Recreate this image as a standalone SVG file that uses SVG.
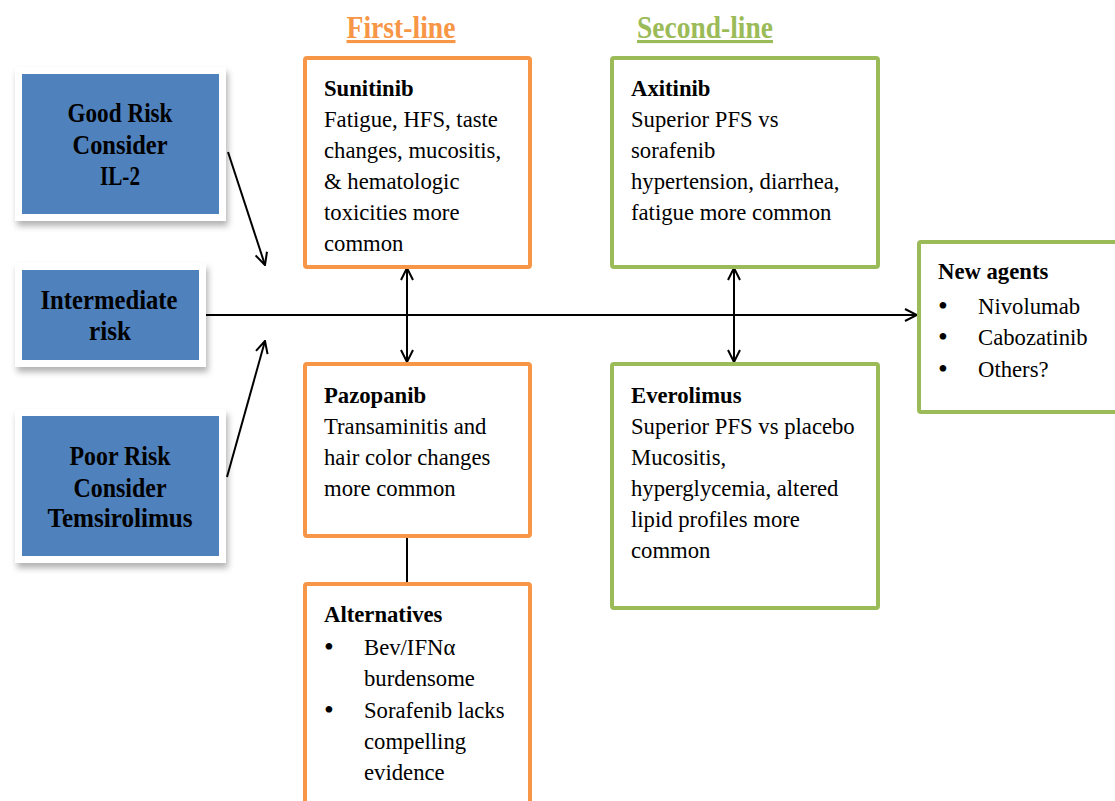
<svg xmlns="http://www.w3.org/2000/svg" width="1115" height="801" viewBox="0 0 1115 801">
<style>
.risk{fill:#4F81BD;stroke:#ffffff;stroke-width:7}
.rt{font-family:"Liberation Serif",serif;font-weight:bold;font-size:27px;fill:#000;text-anchor:middle}
.ob{fill:#fff;stroke:#F79646;stroke-width:4}
.gb{fill:#fff;stroke:#9BBB59;stroke-width:4}
.t{font-family:"Liberation Serif",serif;font-size:22.7px;fill:#000}
.tb{font-family:"Liberation Serif",serif;font-size:22.7px;font-weight:bold;fill:#000}
.bu{font-family:"Liberation Serif",serif;font-size:28px;fill:#000}
.h{font-family:"Liberation Serif",serif;font-size:31px;font-weight:bold;text-decoration:underline;text-anchor:middle}
.c{stroke:#000;stroke-width:2;fill:none}
</style>
<defs>
<filter id="sh" x="-20%" y="-20%" width="150%" height="150%">
<feDropShadow dx="2" dy="5" stdDeviation="3" flood-color="#000" flood-opacity="0.3"/>
</filter>
<marker id="ah" viewBox="0 0 14 14" refX="13" refY="7" markerWidth="14" markerHeight="14" markerUnits="userSpaceOnUse" orient="auto-start-reverse">
<path d="M1,1 L13,7 L1,13" fill="none" stroke="#000" stroke-width="2"/>
</marker>
</defs>
<rect width="1115" height="801" fill="#fff"/>

<text class="h" x="401" y="38" fill="#F79646" textLength="109" lengthAdjust="spacingAndGlyphs">First-line</text>
<text class="h" x="705" y="38" fill="#9BBB59" textLength="136" lengthAdjust="spacingAndGlyphs">Second-line</text>

<g id="connectors">
<line class="c" x1="206" y1="315" x2="917" y2="315" marker-end="url(#ah)"/>
<line class="c" x1="228" y1="152" x2="265" y2="265" marker-end="url(#ah)"/>
<line class="c" x1="227" y1="477" x2="265" y2="341" marker-end="url(#ah)"/>
<line class="c" x1="407" y1="268" x2="407" y2="362" marker-start="url(#ah)" marker-end="url(#ah)"/>
<line class="c" x1="734" y1="268" x2="734" y2="362" marker-start="url(#ah)" marker-end="url(#ah)"/>
<line class="c" x1="407" y1="537" x2="407" y2="583"/>
</g>

<g id="good-risk">
<rect class="risk" x="18.5" y="70.5" width="204" height="147" filter="url(#sh)"/>
<text class="rt" x="120" y="122" textLength="105" lengthAdjust="spacingAndGlyphs">Good Risk</text>
<text class="rt" x="120" y="154" textLength="95" lengthAdjust="spacingAndGlyphs">Consider</text>
<text class="rt" x="120" y="185" textLength="40" lengthAdjust="spacingAndGlyphs">IL-2</text>
</g>
<g id="intermediate-risk">
<rect class="risk" x="18.5" y="266.5" width="184" height="97" filter="url(#sh)"/>
<text class="rt" x="109" y="309" textLength="137" lengthAdjust="spacingAndGlyphs">Intermediate</text>
<text class="rt" x="110" y="340" textLength="42" lengthAdjust="spacingAndGlyphs">risk</text>
</g>
<g id="poor-risk">
<rect class="risk" x="18.5" y="412.5" width="204" height="147" filter="url(#sh)"/>
<text class="rt" x="120" y="465" textLength="101" lengthAdjust="spacingAndGlyphs">Poor Risk</text>
<text class="rt" x="120" y="497" textLength="93" lengthAdjust="spacingAndGlyphs">Consider</text>
<text class="rt" x="120" y="527" textLength="145" lengthAdjust="spacingAndGlyphs">Temsirolimus</text>
</g>

<g id="sunitinib">
<rect class="ob" x="305" y="58" width="225" height="209" rx="2"/>
<text class="tb" x="324" y="96">Sunitinib</text>
<text class="t" x="324" y="127">Fatigue, HFS, taste</text>
<text class="t" x="324" y="158">changes, mucositis,</text>
<text class="t" x="324" y="189">&amp; hematologic</text>
<text class="t" x="324" y="220">toxicities more</text>
<text class="t" x="324" y="251">common</text>
</g>

<g id="pazopanib">
<rect class="ob" x="305" y="364" width="225" height="172" rx="2"/>
<text class="tb" x="324" y="403">Pazopanib</text>
<text class="t" x="324" y="434">Transaminitis and</text>
<text class="t" x="324" y="465">hair color changes</text>
<text class="t" x="324" y="496">more common</text>
</g>

<g id="alternatives">
<rect class="ob" x="305" y="584" width="225" height="230" rx="2"/>
<text class="tb" x="324" y="622">Alternatives</text>
<text class="bu" x="324" y="656">•</text>
<text class="t" x="364" y="655">Bev/IFNα</text>
<text class="t" x="364" y="686">burdensome</text>
<text class="bu" x="324" y="719">•</text>
<text class="t" x="364" y="718">Sorafenib lacks</text>
<text class="t" x="364" y="749">compelling</text>
<text class="t" x="364" y="780">evidence</text>
</g>

<g id="axitinib">
<rect class="gb" x="612" y="58" width="266" height="209" rx="2"/>
<text class="tb" x="631" y="96">Axitinib</text>
<text class="t" x="631" y="127">Superior PFS vs</text>
<text class="t" x="631" y="158">sorafenib</text>
<text class="t" x="631" y="189">hypertension, diarrhea,</text>
<text class="t" x="631" y="220">fatigue more common</text>
</g>

<g id="everolimus">
<rect class="gb" x="612" y="364" width="266" height="244" rx="2"/>
<text class="tb" x="631" y="403">Everolimus</text>
<text class="t" x="631" y="434">Superior PFS vs placebo</text>
<text class="t" x="631" y="465">Mucositis,</text>
<text class="t" x="631" y="496">hyperglycemia, altered</text>
<text class="t" x="631" y="527">lipid profiles more</text>
<text class="t" x="631" y="558">common</text>
</g>

<g id="new-agents">
<rect class="gb" x="919" y="242" width="210" height="170" rx="2"/>
<text class="tb" x="938" y="279">New agents</text>
<text class="bu" x="938" y="315">•</text>
<text class="t" x="978" y="314">Nivolumab</text>
<text class="bu" x="938" y="346">•</text>
<text class="t" x="978" y="345">Cabozatinib</text>
<text class="bu" x="938" y="378">•</text>
<text class="t" x="978" y="377">Others?</text>
</g>
</svg>
